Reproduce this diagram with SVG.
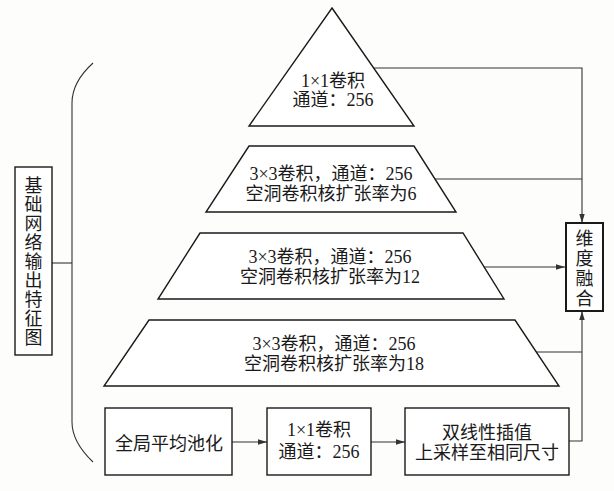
<svg xmlns="http://www.w3.org/2000/svg" width="614" height="491" viewBox="0 0 614 491">
<style>
.shape{fill:#fff;stroke:#1a1a1a;stroke-width:1.4}
.thick{fill:#fff;stroke:#1a1a1a;stroke-width:2}
.line{fill:none;stroke:#333;stroke-width:1.1}
text{font-family:"Liberation Serif","Noto Sans CJK SC",serif;font-size:18px;fill:#1a1a1a;text-anchor:middle}
</style>
<defs>
<marker id="ah" viewBox="0 0 10 6" refX="10" refY="3" markerWidth="9" markerHeight="5.4" markerUnits="userSpaceOnUse" orient="auto">
<path d="M0,0 L10,3 L0,6 Z" fill="#333"/>
</marker>
</defs>
<rect width="614" height="491" fill="#fdfdfb"/>
<g id="connectors">
<path class="line" d="M93,63 Q72,82 72,103 L72,422 Q72,442 93,462"/>
<path class="line" d="M52,263 L72,263"/>
<path class="line" d="M374,68 L582,68 L582,223" marker-end="url(#ah)"/>
<path class="line" d="M435,179 L582,179"/>
<path class="line" d="M484,267 L565,267" marker-end="url(#ah)"/>
<path class="line" d="M536,352 L582,352"/>
<path class="line" d="M569,441 L582,441 L582,311" marker-end="url(#ah)"/>
<path class="line" d="M232,442 L267,442" marker-end="url(#ah)"/>
<path class="line" d="M371,442 L405,442" marker-end="url(#ah)"/>
</g>
<g id="input">
<rect class="shape" x="15" y="167" width="37" height="188"/>
<text x="33.5" y="192">基</text>
<text x="33.5" y="211">础</text>
<text x="33.5" y="230">网</text>
<text x="33.5" y="249">络</text>
<text x="33.5" y="268">输</text>
<text x="33.5" y="287">出</text>
<text x="33.5" y="306">特</text>
<text x="33.5" y="325">征</text>
<text x="33.5" y="344">图</text>
</g>
<g id="conv1x1">
<path class="shape" d="M332,8 L414,126 L249,126 Z"/>
<text x="333" y="87">1×1卷积</text>
<text x="333" y="106">通道：256</text>
</g>
<g id="rate6">
<path class="shape" d="M249,146 L414,146 L456,212 L206,212 Z"/>
<text x="331" y="180">3×3卷积，通道：256</text>
<text x="331" y="200">空洞卷积核扩张率为6</text>
</g>
<g id="rate12">
<path class="shape" d="M200,233 L463,233 L504,299 L158,299 Z"/>
<text x="330" y="263">3×3卷积，通道：256</text>
<text x="330" y="283">空洞卷积核扩张率为12</text>
</g>
<g id="rate18">
<path class="shape" d="M149,320 L515,320 L559,386 L104,386 Z"/>
<text x="334" y="350">3×3卷积，通道：256</text>
<text x="334" y="370">空洞卷积核扩张率为18</text>
</g>
<g id="gap">
<rect class="shape" x="105" y="408" width="127" height="67"/>
<text x="169" y="450">全局平均池化</text>
</g>
<g id="conv-gap">
<rect class="shape" x="267" y="408" width="104" height="67"/>
<text x="319" y="436">1×1卷积</text>
<text x="319" y="458">通道：256</text>
</g>
<g id="upsample">
<rect class="shape" x="405" y="408" width="164" height="67"/>
<text x="487" y="439">双线性插值</text>
<text x="487" y="459">上采样至相同尺寸</text>
</g>
<g id="fusion">
<rect class="thick" x="566" y="223" width="37" height="88"/>
<text x="584.5" y="245">维</text>
<text x="584.5" y="265">度</text>
<text x="584.5" y="285">融</text>
<text x="584.5" y="305">合</text>
</g>
</svg>
